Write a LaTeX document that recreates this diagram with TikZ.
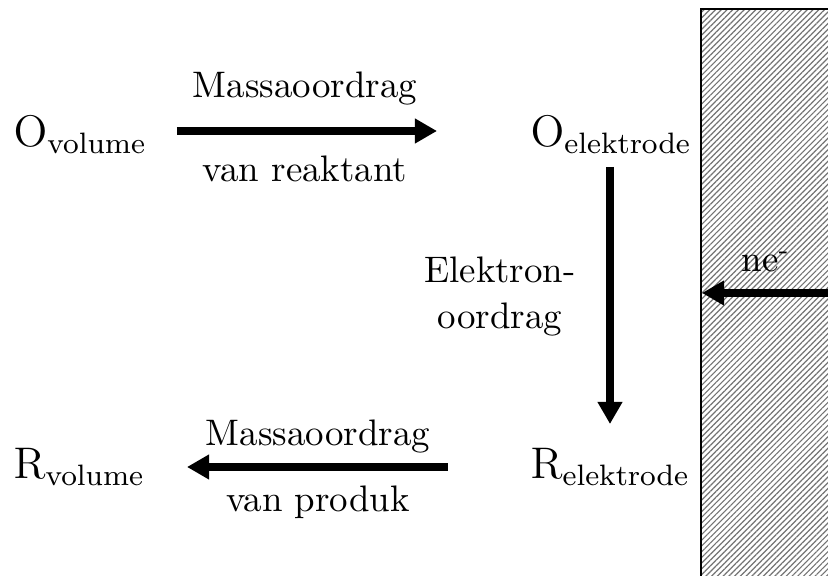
\documentclass[tikz,border=0pt]{standalone}
\usetikzlibrary{arrows.meta,patterns.meta}
\begin{document}
\begin{tikzpicture}[x=0.271pt,y=-0.271pt,
  species/.style={font=\large, inner sep=0pt, anchor=base west},
  lbl/.style={inner sep=0pt, anchor=base},
  flow/.style={line width=2.2pt, -{Triangle[length=6pt,width=6.4pt]}},
  electrode/.style={draw=black, line width=0.6pt, pattern={Lines[angle=45,distance=1.1pt,line width=0.32pt]}, pattern color=black!55}]
\useasboundingbox (0,0) rectangle (828,576);
\clip (0,0) rectangle (828,576);
% electrode
\draw[electrode] (701,9) rectangle (860,600);
% species
\node[species] (Ovol) at (13,147) {$\mathrm{O}_{\mathrm{volume}}$};
\node[species] (Oel) at (530,147) {$\mathrm{O}_{\mathrm{elektrode}}$};
\node[species] (Rel) at (530,479) {$\mathrm{R}_{\mathrm{elektrode}}$};
\node[species] (Rvol) at (13,479) {$\mathrm{R}_{\mathrm{volume}}$};
% labels
\node[lbl] (m1) at (305,98) {Massaoordrag};
\node[lbl] (v1) at (305,182) {van reaktant};
\node[lbl] (m2) at (318,446) {Massaoordrag};
\node[lbl] (v2) at (318,512) {van produk};
\node[lbl] (e1) at (500,283) {Elektron-};
\node[lbl] (e2) at (500,329) {oordrag};
\node[lbl] (ne) at (766,272) {ne\textsuperscript{-}};
% arrow endpoints
\coordinate (a1s) at (177,131);
\coordinate (a1e) at (437,131);
\coordinate (a2s) at (610,167);
\coordinate (a2e) at (610,424);
\coordinate (a3s) at (448,467);
\coordinate (a3e) at (187,467);
\coordinate (a4s) at (840,293);
\coordinate (a4e) at (702,293);
\draw[flow] (a1s) -- (a1e);
\draw[flow] (a2s) -- (a2e);
\draw[flow] (a3s) -- (a3e);
\draw[flow] (a4s) -- (a4e);
\end{tikzpicture}
\end{document}
